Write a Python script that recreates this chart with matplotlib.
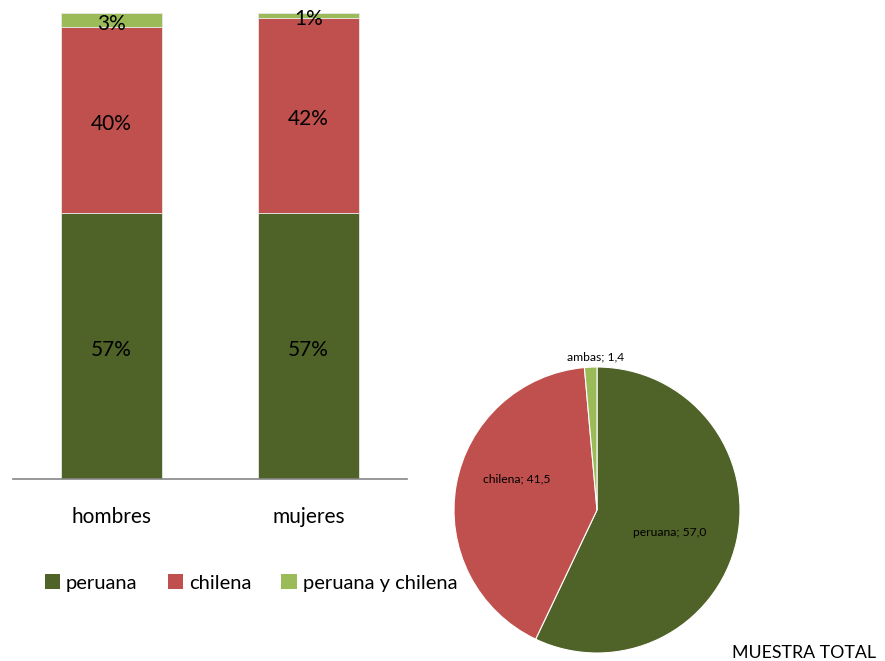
import matplotlib
matplotlib.use("Agg")
import matplotlib.pyplot as plt
from matplotlib.patches import Patch

plt.rcParams['font.family'] = ['Lato', 'DejaVu Sans']

grupos = ['hombres', 'mujeres']
series = ['peruana', 'chilena', 'peruana y chilena']
peruana = [57, 57]
chilena = [40, 42]
ambas = [3, 1]

pie_labels = ['peruana', 'chilena', 'ambas']
pie_vals = [57.0, 41.5, 1.4]

colores = ['#4F6228', '#C0504D', '#9BBB59']

fig = plt.figure(figsize=(8.85, 6.61), dpi=100)
fig.set_facecolor('white')

# barras apiladas
ax = fig.add_axes([13/885, 1-479/661, 394/885, 466/661])
x = range(len(grupos))
base = [0, 0]
for vals, col in zip([peruana, chilena, ambas], colores):
    ax.bar(x, vals, width=0.515, bottom=base, color=col, edgecolor='#E8E8E8', linewidth=0.6)
    for i, v in enumerate(vals):
        ax.text(i, base[i] + v/2 - 0.8, f'{v}%', ha='center', va='center', fontsize=15, color='black')
    base = [b + v for b, v in zip(base, vals)]

ax.set_xlim(-0.5, 1.5)
ax.set_ylim(0, 100)
ax.set_xticks(list(x))
ax.set_xticklabels(grupos, fontsize=15)
ax.tick_params(axis='x', length=0, pad=20)
ax.set_yticks([])
for s in ['top', 'right', 'left']:
    ax.spines[s].set_visible(False)
ax.spines['bottom'].set_color('#868686')
ax.spines['bottom'].set_linewidth(1.2)

handles = [Patch(facecolor=c, edgecolor='none') for c in colores]
fig.legend(handles, series, loc='center', bbox_to_anchor=(251/885, 1-583/661),
           ncol=3, frameon=False, fontsize=14.5, handlelength=0.75, handleheight=0.75,
           handletextpad=0.3, columnspacing=1.5)

# torta
r = 143
cx, cy = 597, 510
axp = fig.add_axes([(cx-r)/885, 1-(cy+r)/661, 2*r/885, 2*r/661])
axp.pie(pie_vals, colors=colores, startangle=90, counterclock=False,
        wedgeprops=dict(edgecolor='white', linewidth=0.8))
axp.set_xlim(-1, 1)
axp.set_ylim(-1, 1)
axp.set_aspect('equal')
axp.text(0.51, -0.16, f'{pie_labels[0]}; {pie_vals[0]:.1f}'.replace('.', ','),
         ha='center', va='center', fontsize=8.7)
axp.text(-0.56, 0.22, f'{pie_labels[1]}; {pie_vals[1]:.1f}'.replace('.', ','),
         ha='center', va='center', fontsize=8.7)
axp.text(-0.01, 1.07, f'{pie_labels[2]}; {pie_vals[2]:.1f}'.replace('.', ','),
         ha='center', va='center', fontsize=8.7)

fig.text(876/885, 1-653/661, 'MUESTRA TOTAL', ha='right', va='center', fontsize=12.8)

fig.savefig('out.png', dpi=100, facecolor='white')
